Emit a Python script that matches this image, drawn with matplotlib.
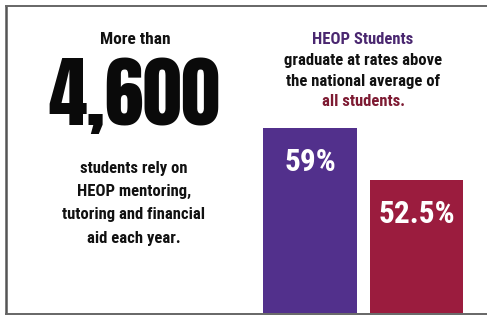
import matplotlib
matplotlib.use("Agg")
from matplotlib import pyplot as plt
from matplotlib import font_manager as fm

# data
groups = ["HEOP Students", "All students"]
rates = [59, 52.5]
rate_labels = ["59%", "52.5%"]
bar_colors = ["#52308c", "#9b1c3e"]

big_number = "4,600"
left_top = "More than"
left_body = ["students rely on", "HEOP mentoring,", "tutoring and financial", "aid each year."]
right_head = "HEOP Students"
right_body = ["graduate at rates above", "the national average of"]
right_tail = "all students."

# pick condensed bold sans fonts if installed
have = {f.name for f in fm.fontManager.ttflist}
prefs = ["Roboto Condensed", "Archivo Narrow", "PT Sans Narrow", "Barlow Condensed",
         "Saira SemiCondensed", "Liberation Sans"]
main_font = next((p for p in prefs if p in have), "DejaVu Sans")
font = [main_font, "DejaVu Sans"]
big_prefs = ["Anton", "Fjalla One", "Saira SemiCondensed", main_font]
big_font = [next((p for p in big_prefs if p in have), main_font), "DejaVu Sans"]

W, H = 487, 316
fig = plt.figure(figsize=(W / 100, H / 100), dpi=100)
fig.patch.set_facecolor("white")

# background axes in pixel coords (origin top-left)
bg = fig.add_axes([0, 0, 1, 1])
bg.set_xlim(0, W)
bg.set_ylim(H, 0)
bg.axis("off")

# frame
bg.plot([6, 6], [6, 314], color="#555555", lw=1.8, solid_capstyle="butt")
bg.plot([6, W], [6, 6], color="#666666", lw=1.4)
bg.plot([6, W], [314, 314], color="#666666", lw=1.4)

# left block
bg.text(135, 40, left_top, ha="center", va="center", fontsize=12.5,
        fontweight="heavy", family=font, color="#111111")
big = bg.text(134, 125, big_number, ha="center", va="baseline", fontsize=60,
              fontweight="heavy", family=big_font, color="#0a0a0a")
# size the big number so it spans about 172 px like the original
r = fig.canvas.get_renderer()
w = big.get_window_extent(r).width
big.set_fontsize(60 * 172 / w)

for i, line in enumerate(left_body):
    bg.text(134, 168 + i * 23.5, line, ha="center", va="center", fontsize=12,
            fontweight="heavy", family=font, color="#111111")

# right block
bg.text(363, 39, right_head, ha="center", va="center", fontsize=12,
        fontweight="heavy", family=font, color="#4a2770")
for i, line in enumerate(right_body):
    bg.text(363, 60.5 + i * 21, line, ha="center", va="center", fontsize=12,
            fontweight="heavy", family=font, color="#111111")
bg.text(363, 102, right_tail, ha="center", va="center", fontsize=12,
        fontweight="heavy", family=font, color="#7d1a32")

# bars
ax = fig.add_axes([256.75 / W, 1 - 313 / H, 213 / W, 233 / H])
ax.set_xlim(-0.5, 1.5)
ax.set_ylim(36, 65)
x = list(range(len(rates)))
bars = ax.bar(x, rates, width=0.878, color=bar_colors, bottom=0)
ax.axis("off")
ax.patch.set_alpha(0)

for xi, val, lab in zip(x, rates, rate_labels):
    ax.text(xi, val - 4.2, lab, ha="center", va="center", fontsize=22.5,
            fontweight="bold", family=font, color="white")

fig.savefig("out.png", dpi=100, facecolor="white")
